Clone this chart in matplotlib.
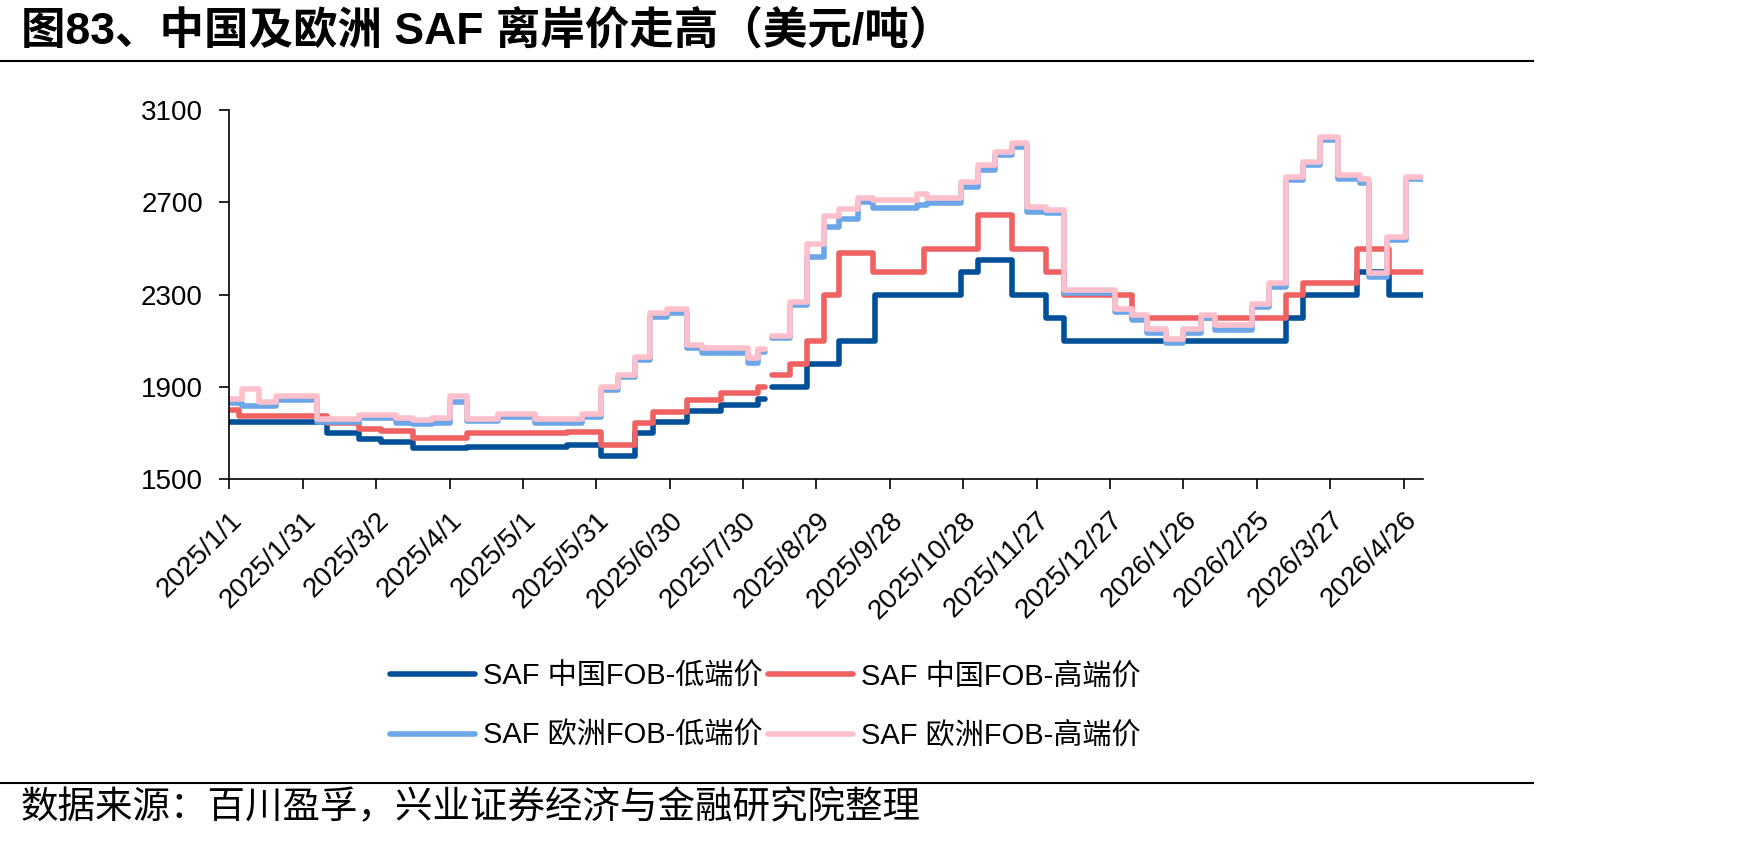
import matplotlib
matplotlib.use("Agg")

import numpy as np
import pandas as pd
import matplotlib.pyplot as plt
from matplotlib.lines import Line2D

plt.rcParams['font.family'] = ['Liberation Sans', 'Noto Sans CJK SC']

title = "图83、中国及欧洲 SAF 离岸价走高（美元/吨）"
source = "数据来源：百川盈孚，兴业证券经济与金融研究院整理"
names = ["SAF 中国FOB-低端价", "SAF 中国FOB-高端价", "SAF 欧洲FOB-低端价", "SAF 欧洲FOB-高端价"]

# price change dates (step data); NaN marks the data gap in early August
cn_lo_dates = ["2025-01-01", "2025-02-10", "2025-02-23", "2025-03-04", "2025-03-17", "2025-04-08",
               "2025-05-19", "2025-06-02", "2025-06-16", "2025-06-23", "2025-07-07", "2025-07-21",
               "2025-08-05", "2025-08-08", "2025-08-11", "2025-08-25", "2025-09-07", "2025-09-22",
               "2025-10-27", "2025-11-03", "2025-11-17", "2025-12-01", "2025-12-08", "2026-03-09",
               "2026-03-16", "2026-04-07", "2026-04-20", "2026-05-04"]
cn_lo = [1750, 1700, 1675, 1660, 1635, 1640,
         1650, 1600, 1700, 1750, 1795, 1820,
         1850, np.nan, 1900, 2000, 2100, 2300,
         2400, 2450, 2300, 2200, 2100, 2200,
         2300, 2400, 2300, 2300]

cn_hi_dates = ["2025-01-01", "2025-01-05", "2025-02-10", "2025-02-23", "2025-03-04", "2025-03-17",
               "2025-04-08", "2025-05-19", "2025-06-02", "2025-06-16", "2025-06-23", "2025-07-07",
               "2025-07-21", "2025-08-05", "2025-08-08", "2025-08-11", "2025-08-18", "2025-08-25",
               "2025-09-01", "2025-09-07", "2025-09-21", "2025-10-12", "2025-11-03", "2025-11-17",
               "2025-12-01", "2025-12-08", "2026-01-05", "2026-03-09", "2026-03-16", "2026-04-07",
               "2026-04-20", "2026-05-04"]
cn_hi = [1800, 1775, 1745, 1720, 1710, 1680,
         1700, 1705, 1650, 1745, 1790, 1845,
         1875, 1900, np.nan, 1950, 2000, 2100,
         2300, 2480, 2400, 2500, 2645, 2500,
         2400, 2300, 2200, 2300, 2350, 2500,
         2400, 2400]

eu_dates = ["2025-01-01", "2025-01-06", "2025-01-13", "2025-01-20", "2025-02-06", "2025-02-23",
            "2025-03-10", "2025-03-17", "2025-03-25", "2025-04-01", "2025-04-08", "2025-04-21",
            "2025-05-06", "2025-05-25", "2025-06-02", "2025-06-09", "2025-06-16", "2025-06-22",
            "2025-06-29", "2025-07-07", "2025-07-13", "2025-08-01", "2025-08-05", "2025-08-08",
            "2025-08-11", "2025-08-18", "2025-08-25", "2025-09-01", "2025-09-07", "2025-09-15",
            "2025-09-21", "2025-10-09", "2025-10-13", "2025-10-27", "2025-11-03", "2025-11-10",
            "2025-11-17", "2025-11-23", "2025-12-01", "2025-12-08", "2025-12-29", "2026-01-05",
            "2026-01-11", "2026-01-19", "2026-01-26", "2026-02-02", "2026-02-08", "2026-02-23",
            "2026-03-02", "2026-03-09", "2026-03-16", "2026-03-23", "2026-03-30", "2026-04-08",
            "2026-04-12", "2026-04-19", "2026-04-27", "2026-05-04"]
eu_lo = [1832, 1818, 1818, 1844, 1750, 1764,
         1745, 1740, 1742, 1836, 1754, 1769,
         1743, 1771, 1887, 1942, 2017, 2205,
         2219, 2068, 2046, 2005, 2050, np.nan,
         2111, 2255, 2462, 2595, 2627, 2703,
         2674, 2690, 2695, 2765, 2840, 2905,
         2941, 2660, 2652, 2306, 2226, 2190,
         2133, 2092, 2133, 2198, 2147, 2248,
         2335, 2797, 2862, 2970, 2800, 2785,
         2378, 2537, 2800, 2800]
eu_hi = [1850, 1890, 1835, 1860, 1760, 1780,
         1765, 1755, 1765, 1860, 1760, 1785,
         1760, 1783, 1900, 1950, 2030, 2220,
         2240, 2080, 2070, 2025, 2064, np.nan,
         2120, 2270, 2520, 2640, 2670, 2720,
         2710, 2735, 2720, 2790, 2862, 2920,
         2955, 2680, 2665, 2320, 2240, 2210,
         2150, 2110, 2150, 2210, 2170, 2260,
         2350, 2810, 2875, 2985, 2820, 2800,
         2395, 2550, 2810, 2810]

tick_labels = ["2025/1/1", "2025/1/31", "2025/3/2", "2025/4/1", "2025/5/1", "2025/5/31",
               "2025/6/30", "2025/7/30", "2025/8/29", "2025/9/28", "2025/10/28", "2025/11/27",
               "2025/12/27", "2026/1/26", "2026/2/25", "2026/3/27", "2026/4/26"]
y_ticks = [1500, 1900, 2300, 2700, 3100]

colors = ["#004F99", "#F06262", "#6CA6E6", "#FFBFCB"]

fig = plt.figure(figsize=(17.48, 8.43), dpi=100)
ax = fig.add_axes([0.1312, 0.4314, 0.6830, 0.4381])

series = [(cn_lo_dates, cn_lo), (cn_hi_dates, cn_hi), (eu_dates, eu_lo), (eu_dates, eu_hi)]
handles = []
for (d, v), c, name in zip(series, colors, names):
    h, = ax.plot(pd.to_datetime(d), v, drawstyle="steps-post", color=c, lw=4,
                 solid_capstyle="round", solid_joinstyle="round", label=name)
    handles.append(h)

ax.set_ylim(1500, 3100)
ax.set_yticks(y_ticks)
ax.set_xlim(pd.Timestamp("2025-01-01"), pd.Timestamp("2026-05-04"))
ax.set_xticks(pd.to_datetime(tick_labels, format="%Y/%m/%d"))
ax.set_xticklabels(tick_labels, rotation=45, ha="right", rotation_mode="anchor")

for s in ["top", "right"]:
    ax.spines[s].set_visible(False)
for s in ["left", "bottom"]:
    ax.spines[s].set_linewidth(1.2)
ax.tick_params(axis="y", direction="out", length=7, width=1.2, labelsize=20, pad=12)
ax.tick_params(axis="x", direction="out", length=7, width=1.2, labelsize=20, pad=13)

order = [0, 2, 1, 3]
fig.legend([handles[i] for i in order], [names[i] for i in order], ncol=2,
           loc="upper left", bbox_to_anchor=(0.2231, 0.214), frameon=False,
           fontsize=21, handlelength=2.9, handletextpad=0.28, columnspacing=0.2,
           labelspacing=1.08, borderpad=0, borderaxespad=0)

fig.text(0.012, 0.963, title, fontsize=32, fontweight="bold", va="center", ha="left")
fig.add_artist(Line2D([0, 0.877], [0.9276, 0.9276], color="black", lw=1.5))
fig.add_artist(Line2D([0, 0.877], [0.0712, 0.0712], color="black", lw=1.5))
fig.text(0.012, 0.0415, source, fontsize=27, va="center", ha="left")

fig.savefig("out.png", dpi=100)
